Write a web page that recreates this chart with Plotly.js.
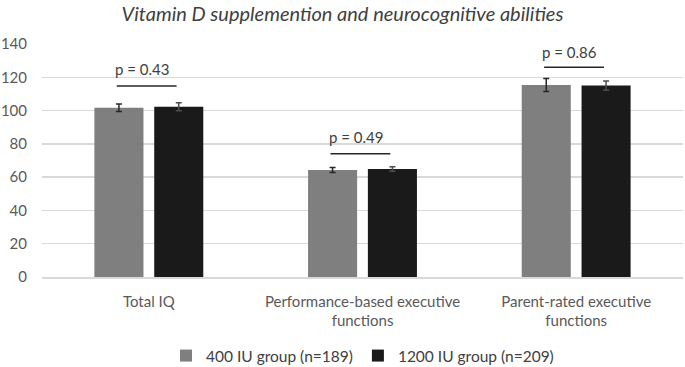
<!DOCTYPE html>
<html>
<head>
<meta charset="utf-8">
<script src="https://cdn.plot.ly/plotly-3.0.1.min.js"></script>
<style>
  html, body { margin: 0; padding: 0; background: #fff; }
  #chart { width: 685px; height: 367px; }
</style>
</head>
<body>
<div id="chart"></div>
<script>
// Outcome categories (x axis)
const categories = [
  "Total IQ",
  "Performance-based executive<br>functions",
  "Parent-rated executive<br>functions"
];

// Group means and error half-widths
const group400Name = "400 IU group (n=189)";
const group400Values = [101.7, 64.3, 115.4];
const group400Errors = [2.3, 1.5, 3.9];

const group1200Name = "1200 IU group (n=209)";
const group1200Values = [102.3, 64.9, 115.0];
const group1200Errors = [2.4, 1.4, 2.8];

// Between-group comparison: p-values and bracket heights
const pLabels = ["p = 0.43", "p = 0.49", "p = 0.86"];
const bracketLevels = [114.8, 74.1, 126.0];
const labelLevels = [124.8, 84.3, 135.2];

const fontFamily = "Lato, 'Open Sans', sans-serif";
const textColor = "#595959";

const traces = [
  {
    type: "bar",
    name: group400Name,
    x: categories,
    y: group400Values,
    marker: { color: "#7f7f7f" },
    error_y: { type: "data", array: group400Errors, visible: true, color: "#262626", thickness: 1.5, width: 3 }
  },
  {
    type: "bar",
    name: group1200Name,
    x: categories,
    y: group1200Values,
    marker: { color: "#1a1a1a" },
    error_y: { type: "data", array: group1200Errors, visible: true, color: "#4d4d4d", thickness: 1.5, width: 3 }
  }
];

// Significance bars drawn across each pair
const shapes = bracketLevels.map((lvl, i) => ({
  type: "line",
  xref: "x",
  yref: "y",
  x0: i - 0.15,
  x1: i + 0.13,
  y0: lvl,
  y1: lvl,
  line: { color: "#262626", width: 1.5 }
}));

const annotations = pLabels.map((txt, i) => ({
  xref: "x",
  yref: "y",
  x: i - 0.03,
  y: labelLevels[i],
  text: txt,
  showarrow: false,
  font: { family: fontFamily, size: 15, color: "#404040" }
}));

const layout = {
  width: 685,
  height: 367,
  margin: { l: 42, r: 2, t: 44, b: 90, autoexpand: false },
  paper_bgcolor: "#ffffff",
  plot_bgcolor: "#ffffff",
  title: {
    text: "<i>Vitamin D supplemention and neurocognitive abilities</i>",
    x: 0.5,
    xanchor: "center",
    y: 0.962,
    yanchor: "middle",
    font: { family: fontFamily, size: 20, color: "#404040" }
  },
  barmode: "group",
  bargap: 0.44,
  bargroupgap: 0.18,
  xaxis: {
    type: "category",
    automargin: false,
    showgrid: false,
    showline: true,
    linecolor: "#d9d9d9",
    linewidth: 1.5,
    ticks: "",
    ticklabelstandoff: 10,
    tickfont: { family: fontFamily, size: 15, color: textColor }
  },
  yaxis: {
    range: [0, 140],
    dtick: 20,
    automargin: false,
    showline: false,
    zeroline: false,
    gridcolor: "#d9d9d9",
    gridwidth: 1.5,
    ticks: "",
    ticklabelstandoff: 14,
    tickfont: { family: fontFamily, size: 15, color: textColor }
  },
  legend: {
    orientation: "h",
    x: 0.5,
    xanchor: "center",
    yref: "container",
    y: 0.03,
    yanchor: "middle",
    font: { family: fontFamily, size: 15.5, color: "#404040" },
    itemwidth: 30
  },
  shapes: shapes,
  annotations: annotations
};

Plotly.newPlot("chart", traces, layout, { displayModeBar: false, staticPlot: true });
</script>
</body>
</html>
